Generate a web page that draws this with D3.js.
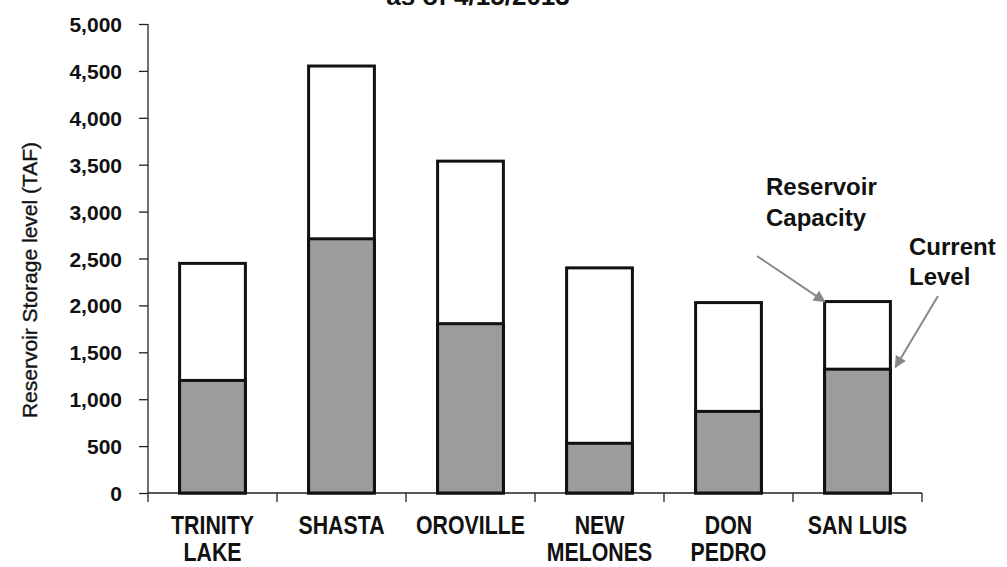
<!DOCTYPE html>
<html lang="en">
<head>
<meta charset="utf-8">
<script src="https://d3js.org/d3.v7.min.js"></script>
<style>
  body { margin: 0; background: #fff; }
  svg text { font-family: "Liberation Sans", Arial, sans-serif; fill: #111; }
</style>
</head>
<body>
<script>
  // reservoir storage, thousand acre-feet
  let reservoirs = [["TRINITY", "LAKE"], ["SHASTA"], ["OROVILLE"], ["NEW", "MELONES"], ["DON", "PEDRO"], ["SAN LUIS"]];
  let capacity = [2448, 4552, 3538, 2400, 2030, 2041];
  let current = [1200, 2710, 1805, 530, 870, 1320];
  let yTicks = [0, 500, 1000, 1500, 2000, 2500, 3000, 3500, 4000, 4500, 5000];

  let width = 1007, height = 567;
  let plotLeft = 148, plotRight = 922, plotTop = 24, plotBottom = 493;
  let narrow = 0.82; // no Arial Narrow here, so squeeze Liberation Sans

  let svg = d3.select("body").append("svg")
    .attr("width", width)
    .attr("height", height);

  let x = d3.scaleBand()
    .domain(d3.range(reservoirs.length))
    .range([plotLeft, plotRight])
    .paddingInner(0.49)
    .paddingOuter(0.245);

  let y = d3.scaleLinear()
    .domain([0, 5000])
    .range([plotBottom, plotTop]);

  // title, mostly cut off at the top (as in the source)
  svg.append("text")
    .attr("x", 478).attr("y", 5)
    .attr("text-anchor", "middle")
    .style("font-size", "26px").style("font-weight", "bold")
    .text("as of 4/15/2013");

  // y axis
  let yAxis = svg.append("g")
    .attr("transform", "translate(" + plotLeft + ",0)")
    .call(d3.axisLeft(y).tickValues(yTicks).tickSize(9).tickPadding(17)
      .tickFormat(d3.format(",")));
  yAxis.selectAll("text")
    .style("font-size", "21px").style("font-weight", "bold")
    .style("font-family", "'Liberation Sans', Arial, sans-serif")
    .attr("dy", "0.36em");
  yAxis.selectAll("line, path").attr("stroke", "#222").attr("stroke-width", 1.3);
  yAxis.select("path").attr("d", "M0," + plotTop + "V" + plotBottom);

  // x axis with ticks between categories
  let xAxis = svg.append("g").attr("transform", "translate(0," + plotBottom + ")");
  xAxis.append("line")
    .attr("x1", plotLeft).attr("x2", plotRight)
    .attr("stroke", "#222").attr("stroke-width", 1.3);
  xAxis.selectAll("line.tick")
    .data(d3.range(reservoirs.length + 1))
    .enter().append("line")
    .attr("class", "tick")
    .attr("x1", d => plotLeft + d * x.step())
    .attr("x2", d => plotLeft + d * x.step())
    .attr("y1", 0).attr("y2", 9)
    .attr("stroke", "#222").attr("stroke-width", 1.3);

  let labels = xAxis.selectAll("text.cat")
    .data(reservoirs)
    .enter().append("text")
    .attr("class", "cat")
    .attr("transform", (d, i) => "translate(" + (x(i) + x.bandwidth() / 2) + ",41) scale(" + narrow + ",1)")
    .attr("text-anchor", "middle")
    .style("font-size", "26px").style("font-weight", "bold");
  labels.selectAll("tspan")
    .data(d => d)
    .enter().append("tspan")
    .attr("x", 0)
    .attr("dy", (d, i) => i ? 27 : 0)
    .text(d => d);

  // capacity bars (white, outlined)
  svg.selectAll("rect.cap")
    .data(capacity)
    .enter().append("rect")
    .attr("class", "cap")
    .attr("x", (d, i) => x(i))
    .attr("y", d => y(d))
    .attr("width", x.bandwidth())
    .attr("height", d => plotBottom - y(d))
    .attr("fill", "#fff")
    .attr("stroke", "#111")
    .attr("stroke-width", 3);

  // current level bars (gray)
  svg.selectAll("rect.cur")
    .data(current)
    .enter().append("rect")
    .attr("class", "cur")
    .attr("x", (d, i) => x(i))
    .attr("y", d => y(d))
    .attr("width", x.bandwidth())
    .attr("height", d => plotBottom - y(d))
    .attr("fill", "#9c9c9c")
    .attr("stroke", "#111")
    .attr("stroke-width", 3);

  // y axis title
  svg.append("text")
    .attr("transform", "translate(37,280) rotate(-90)")
    .attr("text-anchor", "middle")
    .style("font-size", "21px")
    .style("stroke", "#222").style("stroke-width", 0.4)
    .text("Reservoir Storage level (TAF)");

  // annotations
  svg.append("defs").append("marker")
    .attr("id", "arrow")
    .attr("viewBox", "0 0 10 10")
    .attr("refX", 9).attr("refY", 5)
    .attr("markerWidth", 6).attr("markerHeight", 6)
    .attr("orient", "auto")
    .append("path")
    .attr("d", "M0,0L10,5L0,10z")
    .attr("fill", "#888");

  let note = svg.append("g").style("font-size", "24px").style("font-weight", "bold");
  note.append("text").attr("x", 766).attr("y", 195).text("Reservoir");
  note.append("text").attr("x", 766).attr("y", 226).text("Capacity");
  note.append("text").attr("x", 909).attr("y", 255).text("Current");
  note.append("text").attr("x", 909).attr("y", 285).text("Level");

  let lastX = x(reservoirs.length - 1);
  svg.append("line")
    .attr("x1", 757).attr("y1", 256)
    .attr("x2", lastX).attr("y2", y(capacity[5]))
    .attr("stroke", "#888").attr("stroke-width", 2)
    .attr("marker-end", "url(#arrow)");
  svg.append("line")
    .attr("x1", 938).attr("y1", 296)
    .attr("x2", lastX + x.bandwidth() + 5).attr("y2", y(current[5]) - 2)
    .attr("stroke", "#888").attr("stroke-width", 2)
    .attr("marker-end", "url(#arrow)");
</script>
</body>
</html>
